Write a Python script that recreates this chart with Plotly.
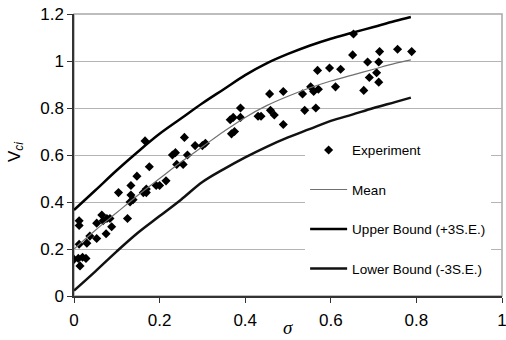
import plotly.graph_objects as go

# Experimental data (sigma, Vci)
exp_sigma = [0.000, 0.010, 0.012, 0.012, 0.012, 0.014, 0.020, 0.028, 0.030, 0.037,
             0.053, 0.053, 0.065, 0.068, 0.077, 0.075, 0.084, 0.088, 0.104, 0.125,
             0.131, 0.133, 0.133, 0.138, 0.147, 0.162, 0.169, 0.169, 0.176, 0.192,
             0.200, 0.215, 0.166, 0.240, 0.255, 0.230, 0.237, 0.265, 0.258, 0.283,
             0.300, 0.307, 0.365, 0.372, 0.389, 0.389, 0.368, 0.375, 0.430, 0.437,
             0.457, 0.459, 0.468, 0.489, 0.489, 0.534, 0.553, 0.560, 0.571, 0.569,
             0.539, 0.565, 0.597, 0.611, 0.623, 0.653, 0.651, 0.677, 0.686, 0.690,
             0.707, 0.712, 0.712, 0.714, 0.756, 0.789]
exp_vci = [0.156, 0.160, 0.320, 0.300, 0.220, 0.128, 0.165, 0.160, 0.225, 0.255,
           0.245, 0.310, 0.345, 0.320, 0.330, 0.265, 0.330, 0.295, 0.440, 0.330,
           0.400, 0.430, 0.470, 0.410, 0.510, 0.440, 0.455, 0.440, 0.550, 0.470,
           0.470, 0.490, 0.660, 0.560, 0.560, 0.600, 0.610, 0.600, 0.675, 0.640,
           0.640, 0.650, 0.750, 0.760, 0.800, 0.760, 0.690, 0.700, 0.765, 0.765,
           0.860, 0.790, 0.770, 0.870, 0.730, 0.860, 0.890, 0.870, 0.880, 0.960,
           0.790, 0.800, 0.970, 0.890, 0.965, 1.115, 1.026, 0.875, 0.996, 0.930,
           0.950, 0.996, 0.910, 1.040, 1.050, 1.040]

# Fitted curves
curve_sigma = [0.0, 0.05, 0.1, 0.15, 0.2, 0.25, 0.3, 0.35, 0.4, 0.45, 0.5,
               0.55, 0.6, 0.65, 0.7, 0.75, 0.787]
mean_vci = [0.200, 0.280, 0.355, 0.430, 0.500, 0.570, 0.635, 0.700, 0.760, 0.810,
            0.850, 0.885, 0.915, 0.940, 0.965, 0.990, 1.005]
upper_vci = [0.366, 0.450, 0.535, 0.615, 0.690, 0.755, 0.820, 0.880, 0.940, 0.990,
             1.030, 1.065, 1.095, 1.120, 1.145, 1.170, 1.187]
lower_vci = [0.023, 0.105, 0.190, 0.270, 0.340, 0.410, 0.485, 0.540, 0.590, 0.635,
             0.675, 0.710, 0.745, 0.772, 0.800, 0.825, 0.844]

x_ticks = [0, 0.2, 0.4, 0.6, 0.8, 1]
y_ticks = [0, 0.2, 0.4, 0.6, 0.8, 1, 1.2]

FONT = "Liberation Sans, Arial, sans-serif"

fig = go.Figure()
fig.add_trace(go.Scatter(x=exp_sigma, y=exp_vci, mode="markers", name="Experiment",
                         legendgroup="a",
                         marker=dict(symbol="diamond", size=7, color="black")))
fig.add_trace(go.Scatter(x=curve_sigma, y=mean_vci, mode="lines", name="Mean",
                         legendgroup="b", line=dict(color="#707070", width=1.2, shape="spline")))
fig.add_trace(go.Scatter(x=curve_sigma, y=upper_vci, mode="lines", name="Upper Bound (+3S.E.)",
                         legendgroup="c", line=dict(color="black", width=2.5, shape="spline")))
fig.add_trace(go.Scatter(x=curve_sigma, y=lower_vci, mode="lines", name="Lower Bound (-3S.E.)",
                         legendgroup="d", line=dict(color="#111111", width=2.5, shape="spline")))

fig.update_layout(
    width=506, height=340,
    margin=dict(l=74, r=4, t=14, b=44, autoexpand=False),
    paper_bgcolor="white", plot_bgcolor="white",
    font=dict(family=FONT, size=17, color="black"),
    showlegend=True,
    legend=dict(x=0.54, y=0.572, xanchor="left", yanchor="top",
                bgcolor="white", font=dict(size=13.5, family=FONT),
                traceorder="grouped", tracegroupgap=19, itemwidth=37),
    shapes=[dict(type="rect", xref="paper", yref="paper", x0=0, y0=0, x1=1, y1=1,
                 line=dict(color="#a8a8a8", width=1.5), layer="below")],
    annotations=[
        dict(text="<i>σ</i>", xref="paper", yref="paper", x=0.5, y=-0.11,
             xanchor="center", yanchor="middle", showarrow=False, borderpad=0,
             font=dict(family="Liberation Serif, Times New Roman, serif", size=19)),
        dict(text="V<sub><i>ci</i></sub>", xref="paper", yref="paper", x=-0.136, y=0.51,
             xanchor="center", yanchor="middle", showarrow=False, textangle=-90,
             font=dict(family=FONT, size=17)),
    ],
)
fig.update_xaxes(range=[0, 1], tickvals=x_ticks, showgrid=False, zeroline=False,
                 showline=True, linecolor="#333333", linewidth=1.5, automargin=False,
                 ticks="outside", ticklen=5, tickcolor="#333333", ticklabeloverflow="allow",
                 ticklabelstandoff=3)
fig.update_yaxes(range=[0, 1.2], tickvals=y_ticks, showgrid=True, gridcolor="#b4b4b4", gridwidth=1,
                 zeroline=False, showline=True, linecolor="#333333", linewidth=1.5, automargin=False,
                 ticks="outside", ticklen=5, tickcolor="#333333", ticklabeloverflow="allow")

fig.write_html("out.html", config={"displayModeBar": False},
               post_script="document.body.style.margin='0';document.body.style.overflow='hidden';")
